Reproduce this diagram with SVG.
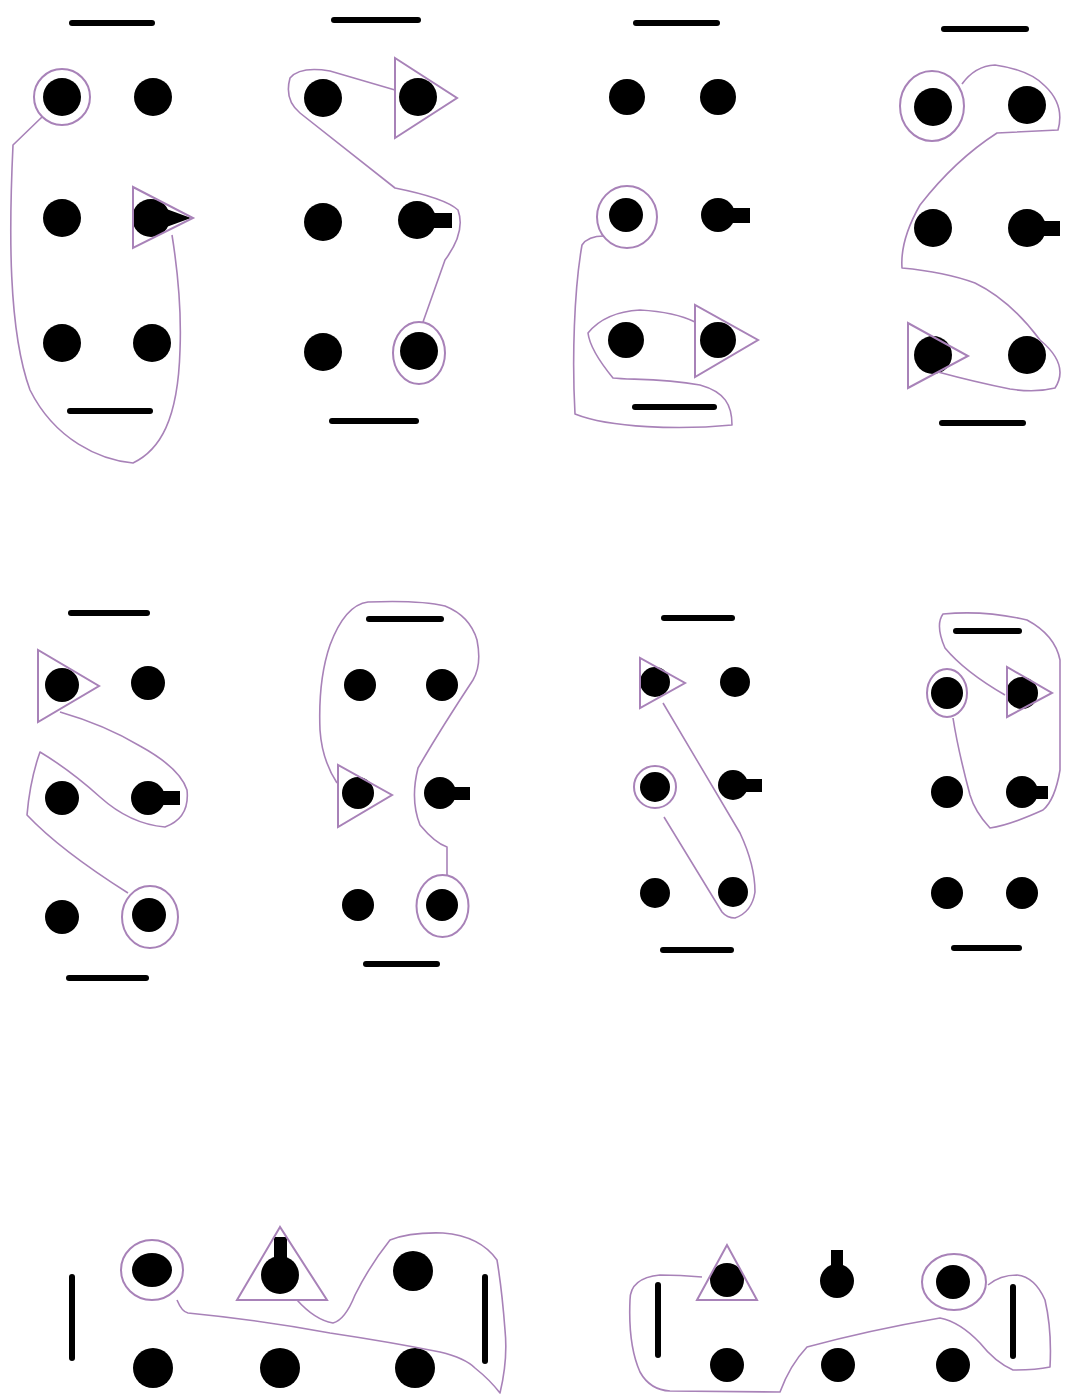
<svg xmlns="http://www.w3.org/2000/svg" width="1068" height="1395" viewBox="0 0 1068 1395">
<style>
.d{fill:#000}
.b{stroke:#000;stroke-width:6;stroke-linecap:round}
.p{fill:none;stroke:#a882b8;stroke-width:1.6;stroke-linejoin:round}
.r{fill:none;stroke:#a882b8;stroke-width:2}
</style>
<rect width="1068" height="1395" fill="#fff"/>
<g id="panel1">
<line class="b" x1="72" y1="23" x2="152" y2="23"/><line class="b" x1="70" y1="411" x2="150" y2="411"/>
<circle class="d" cx="62" cy="97" r="19"/><circle class="r" cx="62" cy="97" r="28"/>
<circle class="d" cx="153" cy="97" r="19"/>
<circle class="d" cx="62" cy="218" r="19"/>
<circle class="d" cx="151" cy="218" r="19"/><polygon class="d" points="150,203 191,218 150,233"/>
<polygon class="r" points="133,187 133,248 193,218"/>
<circle class="d" cx="62" cy="343" r="19"/><circle class="d" cx="152" cy="343" r="19"/>
</g>
<g id="panel2">
<line class="b" x1="334" y1="20" x2="418" y2="20"/><line class="b" x1="332" y1="421" x2="416" y2="421"/>
<circle class="d" cx="323" cy="98" r="19"/>
<circle class="d" cx="418" cy="97" r="19"/><polygon class="r" points="395,58 395,138 457,98"/>
<circle class="d" cx="323" cy="222" r="19"/>
<circle class="d" cx="417" cy="220" r="19"/><rect class="d" x="428" y="213" width="24" height="15"/>
<circle class="d" cx="323" cy="352" r="19"/>
<circle class="d" cx="419" cy="351" r="19"/><ellipse class="r" cx="419" cy="353" rx="26" ry="31"/>
</g>
<g id="panel3">
<line class="b" x1="636" y1="23" x2="717" y2="23"/><line class="b" x1="635" y1="407" x2="714" y2="407"/>
<circle class="d" cx="627" cy="97" r="18"/><circle class="d" cx="718" cy="97" r="18"/>
<circle class="d" cx="626" cy="215" r="17"/><ellipse class="r" cx="627" cy="217" rx="30" ry="31"/>
<circle class="d" cx="718" cy="215" r="17"/><rect class="d" x="728" y="208" width="22" height="15"/>
<circle class="d" cx="626" cy="340" r="18"/>
<circle class="d" cx="718" cy="340" r="18"/><polygon class="r" points="695,305 695,377 758,340"/>
</g>
<g id="panel4">
<line class="b" x1="944" y1="29" x2="1026" y2="29"/><line class="b" x1="942" y1="423" x2="1023" y2="423"/>
<circle class="d" cx="933" cy="107" r="19"/><ellipse class="r" cx="932" cy="106" rx="32" ry="35"/>
<circle class="d" cx="1027" cy="105" r="19"/>
<circle class="d" cx="933" cy="228" r="19"/>
<circle class="d" cx="1027" cy="228" r="19"/><rect class="d" x="1036" y="221" width="24" height="15"/>
<circle class="d" cx="933" cy="355" r="19"/><polygon class="r" points="908,323 908,388 968,356"/>
<circle class="d" cx="1027" cy="355" r="19"/>
</g>
<g id="panel5">
<line class="b" x1="71" y1="613" x2="147" y2="613"/><line class="b" x1="69" y1="978" x2="146" y2="978"/>
<circle class="d" cx="62" cy="685" r="17"/><polygon class="r" points="38,650 38,722 99,686"/>
<circle class="d" cx="148" cy="683" r="17"/>
<circle class="d" cx="62" cy="798" r="17"/>
<circle class="d" cx="148" cy="798" r="17"/><rect class="d" x="156" y="791" width="24" height="14"/>
<circle class="d" cx="62" cy="917" r="17"/>
<circle class="d" cx="149" cy="915" r="17"/><ellipse class="r" cx="150" cy="917" rx="28" ry="31"/>
</g>
<g id="panel6">
<line class="b" x1="369" y1="619" x2="441" y2="619"/><line class="b" x1="366" y1="964" x2="437" y2="964"/>
<circle class="d" cx="360" cy="685" r="16"/><circle class="d" cx="442" cy="685" r="16"/>
<circle class="d" cx="358" cy="793" r="16"/><polygon class="r" points="338,765 338,827 392,795"/>
<circle class="d" cx="440" cy="793" r="16"/><rect class="d" x="448" y="787" width="22" height="13"/>
<circle class="d" cx="358" cy="905" r="16"/>
<circle class="d" cx="442" cy="905" r="16"/><ellipse class="r" cx="442.5" cy="906" rx="26" ry="31"/>
</g>
<g id="panel7">
<line class="b" x1="664" y1="618" x2="732" y2="618"/><line class="b" x1="663" y1="950" x2="731" y2="950"/>
<circle class="d" cx="655" cy="682" r="15"/><polygon class="r" points="640,658 640,708 685,683"/>
<circle class="d" cx="735" cy="682" r="15"/>
<circle class="d" cx="655" cy="787" r="15"/><circle class="r" cx="655" cy="787" r="21"/>
<circle class="d" cx="733" cy="785" r="15"/><rect class="d" x="740" y="779" width="22" height="13"/>
<circle class="d" cx="655" cy="893" r="15"/><circle class="d" cx="733" cy="892" r="15"/>
</g>
<g id="panel8">
<line class="b" x1="956" y1="631" x2="1019" y2="631"/><line class="b" x1="954" y1="948" x2="1019" y2="948"/>
<circle class="d" cx="947" cy="693" r="16"/><ellipse class="r" cx="947" cy="693" rx="20" ry="24"/>
<circle class="d" cx="1022" cy="693" r="16"/><polygon class="r" points="1007,667 1007,717 1052,693"/>
<circle class="d" cx="947" cy="792" r="16"/>
<circle class="d" cx="1022" cy="792" r="16"/><rect class="d" x="1030" y="786" width="18" height="13"/>
<circle class="d" cx="947" cy="893" r="16"/><circle class="d" cx="1022" cy="893" r="16"/>
</g>
<g id="panel9">
<line class="b" x1="72" y1="1277" x2="72" y2="1358"/><line class="b" x1="485" y1="1277" x2="485" y2="1361"/>
<ellipse class="d" cx="152" cy="1270" rx="20" ry="17"/><ellipse class="r" cx="152" cy="1270" rx="31" ry="30"/>
<circle class="d" cx="280" cy="1275" r="19"/><rect class="d" x="274" y="1237" width="13" height="22"/>
<polygon class="r" points="280,1227 237,1300 327,1300"/>
<circle class="d" cx="413" cy="1271" r="20"/>
<circle class="d" cx="153" cy="1368" r="20"/><circle class="d" cx="280" cy="1368" r="20"/><circle class="d" cx="415" cy="1368" r="20"/>
</g>
<g id="panel10">
<line class="b" x1="658" y1="1285" x2="658" y2="1355"/><line class="b" x1="1013" y1="1287" x2="1013" y2="1356"/>
<circle class="d" cx="727" cy="1280" r="17"/><polygon class="r" points="727,1245 697,1300 757,1300"/>
<circle class="d" cx="837" cy="1281" r="17"/><rect class="d" x="831" y="1250" width="12" height="16"/>
<circle class="d" cx="953" cy="1282" r="17"/><ellipse class="r" cx="954" cy="1282" rx="32" ry="28"/>
<circle class="d" cx="727" cy="1365" r="17"/><circle class="d" cx="838" cy="1365" r="17"/><circle class="d" cx="953" cy="1365" r="17"/>
</g>
<g id="connectors">
<path class="p" d="M42,117 L13,145 C9,230 8,330 30,390 C55,440 100,460 133,463 C160,450 178,420 180,350 C182,300 176,260 172,235"/>
<path class="p" d="M395,90 L330,71 Q300,66 290,78 Q284,100 300,113 L395,188 Q445,198 458,210 Q466,232 445,260 L423,322"/>
<path class="p" d="M604,236 Q588,236 582,245 C574,290 572,360 575,414 C610,428 680,430 732,425 C732,405 725,392 700,385 C660,378 630,380 613,378 Q590,350 588,333 Q605,312 640,310 Q675,312 695,322"/>
<path class="p" d="M962,84 Q975,66 995,65 Q1030,70 1045,86 Q1065,105 1058,130 L997,133 Q955,160 920,205 Q900,240 902,268 Q945,272 975,283 Q1010,300 1040,340 Q1070,365 1055,388 Q1035,393 1010,389 Q975,382 938,372"/>
<path class="p" d="M60,712 Q105,725 140,746 Q180,768 187,790 Q190,818 165,827 Q130,824 100,797 Q70,770 40,752 Q30,780 27,815 Q60,850 128,893"/>
<path class="p" d="M337,783 Q322,760 320,730 Q318,680 330,645 Q345,605 368,602 Q420,600 445,606 Q470,616 477,640 Q482,665 473,680 Q440,730 418,768 Q410,800 420,825 Q435,843 447,847 L447,876"/>
<path class="p" d="M663,703 L740,833 Q755,865 755,892 Q752,912 735,918 Q727,918 722,912 L664,817"/>
<path class="p" d="M1005,695 Q965,672 945,648 Q935,625 943,614 Q985,610 1027,620 Q1055,635 1060,660 L1060,770 Q1055,800 1043,810 Q1010,825 990,828 Q975,812 970,795 Q958,750 953,718"/>
<path class="p" d="M177,1300 Q182,1312 188,1313 Q260,1320 330,1333 Q390,1342 440,1352 Q465,1358 475,1368 Q490,1380 500,1393 Q508,1360 505,1330 Q502,1290 497,1260 Q480,1236 443,1233 Q410,1232 390,1240 Q370,1265 355,1295 Q345,1320 333,1323 Q315,1320 297,1300"/>
<path class="p" d="M702,1277 Q680,1275 660,1275 Q630,1278 630,1300 Q628,1345 640,1372 Q650,1390 670,1391 L780,1392 Q790,1365 807,1347 Q870,1330 940,1318 Q960,1322 980,1343 Q995,1362 1013,1370 Q1035,1370 1050,1367 Q1052,1330 1045,1300 Q1035,1277 1017,1275 Q1000,1275 988,1285"/>
</g>
</svg>
